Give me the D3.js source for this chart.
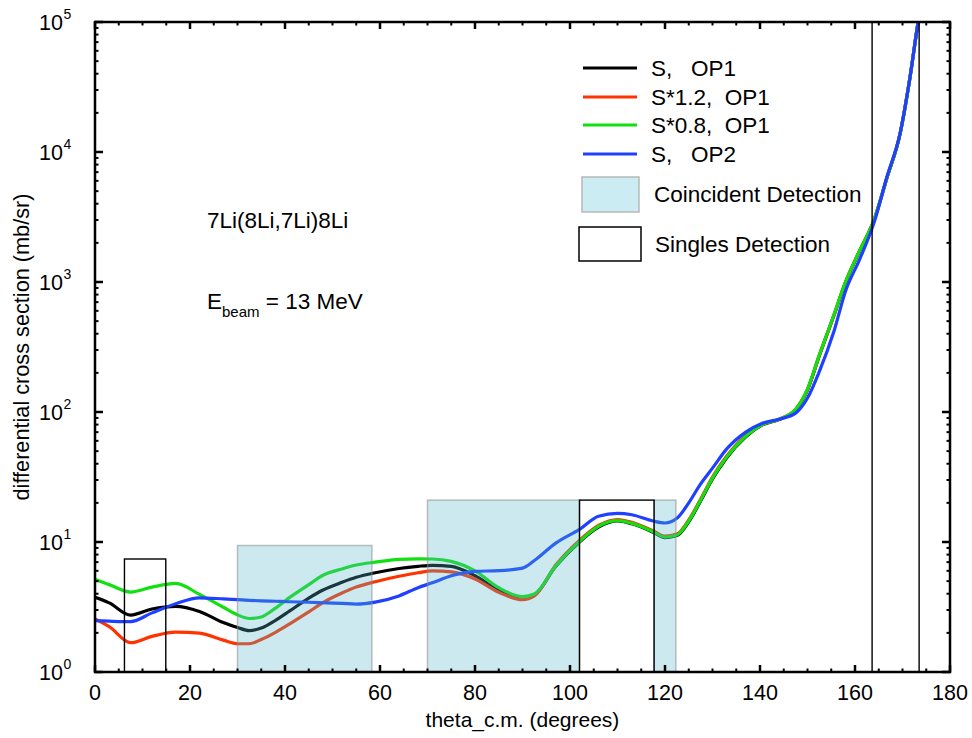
<!DOCTYPE html>
<html>
<head>
<meta charset="utf-8">
<script src="https://cdn.jsdelivr.net/npm/d3@7"></script>
<style>
  html, body { margin: 0; padding: 0; background: #fff; }
  svg { display: block; font-family: "Liberation Sans", Arial, Helvetica, sans-serif; }
</style>
</head>
<body>
<svg id="chart" width="972" height="738"></svg>
<script>
// Scattering angle grid (degrees, c.m.)
const theta = [0, 3, 7.5, 12, 17, 22, 27, 30, 32.5, 35, 38, 41, 45, 48, 52, 55, 59, 64, 68, 71,
  75, 80, 85, 90, 92.5, 97, 102, 106, 110, 113, 117.5, 120, 122.5, 125, 127.5, 130, 133, 137,
  140.5, 144, 147.5, 150, 152.5, 155.5, 158, 161, 164, 166.7, 169.5, 171.6, 173.3, 175];

// Differential cross sections (mb/sr)
const sOp1 = [3.75, 3.4, 2.74, 3.05, 3.2, 2.92, 2.4, 2.2, 2.08, 2.18, 2.5, 2.95, 3.7, 4.27, 4.9,
  5.35, 5.8, 6.25, 6.5, 6.62, 6.5, 5.5, 4.25, 3.72, 3.92, 6.5, 10.0, 13.0, 14.5, 13.8, 11.9,
  10.8, 11.2, 14.3, 20.7, 30.5, 44.5, 64.5, 79.5, 87.5, 104, 148, 272, 545, 990, 1740, 2990,
  6280, 13880, 37950, 99900, 200000];
const s12Op1 = [2.56, 2.23, 1.68, 1.88, 2.03, 1.99, 1.76, 1.65, 1.65, 1.78, 2.02, 2.35, 2.9,
  3.42, 4.05, 4.5, 4.95, 5.45, 5.8, 6.0, 5.9, 5.2, 4.1, 3.6, 3.85, 6.65, 10.3, 13.4, 14.9, 14.2,
  12.2, 11.1, 11.5, 14.8, 21.4, 31.6, 45.8, 66, 80.5, 88, 105, 149, 274, 548, 1000, 1750, 3000,
  6300, 13900, 38000, 100000, 200000];
const s08Op1 = [5.17, 4.7, 4.12, 4.5, 4.8, 3.95, 3.15, 2.75, 2.58, 2.65, 3.1, 3.75, 4.7, 5.55,
  6.2, 6.65, 7.0, 7.35, 7.42, 7.4, 7.1, 6.0, 4.45, 3.8, 3.98, 6.55, 10.1, 13.2, 14.6, 13.9, 12.0,
  10.9, 11.3, 14.5, 21, 31, 45, 65, 80, 88, 105, 150, 275, 550, 1000, 1750, 3000, 6300, 13900,
  38000, 100000, 200000];
const sOp2 = [2.48, 2.46, 2.44, 2.85, 3.35, 3.72, 3.65, 3.6, 3.56, 3.53, 3.5, 3.47, 3.44, 3.41,
  3.37, 3.33, 3.45, 3.85, 4.45, 4.85, 5.5, 5.95, 6.02, 6.3, 7.2, 9.8, 12.5, 15.8, 16.6, 16.2,
  14.5, 14.0, 15.2, 20, 28, 37, 52, 70, 82, 88, 98, 128, 205, 410, 850, 1500, 2850, 6400, 13900,
  37900, 100000, 200000];

const seriesNames = ["S,   OP1", "S*1.2,  OP1", "S*0.8,  OP1", "S,   OP2"];
const seriesColors = ["#000000", "#ff3300", "#11e011", "#1f40ff"];

// Angular acceptance windows
const coincLo = [30, 70, 117.7];
const coincHi = [58.3, 102, 122.3];
const coincTop = [9.4, 21, 21];
const singlesLo = [6.2, 102, 163.6];
const singlesHi = [14.9, 117.7, 173.5];
const singlesTop = [7.4, 21, 1e7];

const xTicks = [0, 20, 40, 60, 80, 100, 120, 140, 160, 180];
const yDecades = [0, 1, 2, 3, 4, 5];

const svg = d3.select("#chart");
const L = 95, R = 950, T = 22, B = 672;

const x = d3.scaleLinear().domain([0, 180]).range([L, R]);
const y = d3.scaleLog().domain([1, 1e5]).range([B, T]);

svg.append("defs").append("clipPath").attr("id", "plotClip")
  .append("rect").attr("x", L).attr("y", T).attr("width", R - L).attr("height", B - T);

const plot = svg.append("g").attr("clip-path", "url(#plotClip)");

// Curves
const series = [sOp1, s12Op1, s08Op1, sOp2];
const line = d3.line()
  .x((d, i) => x(theta[i]))
  .y(d => y(d))
  .curve(d3.curveMonotoneX);

series.forEach((vals, k) => {
  plot.append("path")
    .datum(vals)
    .attr("d", line)
    .attr("fill", "none")
    .attr("stroke", seriesColors[k])
    .attr("stroke-width", 3.2)
    .attr("stroke-linejoin", "round");
});

// Coincident-detection windows (translucent, over the curves)
coincLo.forEach((lo, i) => {
  plot.append("rect")
    .attr("x", x(lo))
    .attr("y", y(coincTop[i]))
    .attr("width", x(coincHi[i]) - x(lo))
    .attr("height", y(1) - y(coincTop[i]))
    .attr("fill", "rgb(83,183,200)")
    .attr("fill-opacity", 0.3)
    .attr("stroke", "rgba(140,140,140,0.55)")
    .attr("stroke-width", 1.5);
});

// Singles-detection windows
singlesLo.forEach((lo, i) => {
  plot.append("rect")
    .attr("x", x(lo))
    .attr("y", y(Math.min(singlesTop[i], 1e6)))
    .attr("width", x(singlesHi[i]) - x(lo))
    .attr("height", y(1) - y(Math.min(singlesTop[i], 1e6)))
    .attr("fill", "none")
    .attr("stroke", "#000")
    .attr("stroke-width", 1.4);
});

// Frame and ticks
const axes = svg.append("g");
axes.append("rect")
  .attr("x", L).attr("y", T).attr("width", R - L).attr("height", B - T)
  .attr("fill", "none").attr("stroke", "#000").attr("stroke-width", 2.5);

const xMinor = d3.range(0, 181, 5);
xMinor.forEach(v => {
  const major = v % 20 === 0;
  const len = major ? 7 : 3.5;
  const w = major ? 2.5 : 2;
  axes.append("line").attr("x1", x(v)).attr("x2", x(v)).attr("y1", B).attr("y2", B - len)
    .attr("stroke", "#000").attr("stroke-width", w);
  axes.append("line").attr("x1", x(v)).attr("x2", x(v)).attr("y1", T).attr("y2", T + len)
    .attr("stroke", "#000").attr("stroke-width", w);
});

yDecades.forEach(p => {
  const base = Math.pow(10, p);
  const majY = y(base);
  [[L, 1], [R, -1]].forEach(([x0, dir]) => {
    axes.append("line").attr("x1", x0).attr("x2", x0 + dir * 8).attr("y1", majY).attr("y2", majY)
      .attr("stroke", "#000").attr("stroke-width", 2.5);
  });
  if (p < 5) {
    for (let m = 2; m <= 9; m++) {
      const yy = y(base * m);
      [[L, 1], [R, -1]].forEach(([x0, dir]) => {
        axes.append("line").attr("x1", x0).attr("x2", x0 + dir * 3.5).attr("y1", yy).attr("y2", yy)
          .attr("stroke", "#000").attr("stroke-width", 2);
      });
    }
  }
});

// Tick labels
const xLab = svg.append("g").attr("font-size", 21.5).attr("fill", "#000");
xTicks.forEach(v => {
  xLab.append("text").attr("x", x(v)).attr("y", 700).attr("text-anchor", "middle").text(v);
});

const yLab = svg.append("g").attr("fill", "#000");
yDecades.forEach(p => {
  const yy = y(Math.pow(10, p));
  yLab.append("text").attr("x", 63).attr("y", yy + 8).attr("text-anchor", "end")
    .attr("font-size", 21.5).text("10");
  yLab.append("text").attr("x", 63.5).attr("y", yy - 3).attr("text-anchor", "start")
    .attr("font-size", 14).text(p);
});

// Axis titles
svg.append("text").attr("x", (L + R) / 2).attr("y", 727).attr("text-anchor", "middle")
  .attr("font-size", 21).text("theta_c.m. (degrees)");
svg.append("text").attr("transform", `translate(29,${(T + B) / 2}) rotate(-90)`)
  .attr("text-anchor", "middle").attr("font-size", 21.7).text("differential cross section (mb/sr)");

// Reaction annotations
svg.append("text").attr("x", 207).attr("y", 228).attr("font-size", 22.5).text("7Li(8Li,7Li)8Li");
const eb = svg.append("text").attr("x", 207).attr("y", 309).attr("font-size", 22.5);
eb.append("tspan").text("E");
eb.append("tspan").attr("font-size", 15).attr("dy", 8).text("beam");
eb.append("tspan").attr("dy", -8).text(" = 13 MeV");

// Legend
const leg = svg.append("g");
const legY = [68, 97, 125, 154];
seriesNames.forEach((name, k) => {
  leg.append("line").attr("x1", 583).attr("x2", 637).attr("y1", legY[k]).attr("y2", legY[k])
    .attr("stroke", seriesColors[k]).attr("stroke-width", 3.2);
  leg.append("text").attr("x", 651).attr("y", legY[k] + 8).attr("font-size", 22.5)
    .attr("xml:space", "preserve").style("white-space", "pre").text(name);
});
leg.append("rect").attr("x", 582).attr("y", 177).attr("width", 57).attr("height", 35)
  .attr("fill", "#cbecf2").attr("stroke", "#b8b8b8").attr("stroke-width", 1.5);
leg.append("text").attr("x", 654).attr("y", 202).attr("font-size", 22.5).text("Coincident Detection");
leg.append("rect").attr("x", 579).attr("y", 227).attr("width", 62).attr("height", 34)
  .attr("fill", "#fff").attr("stroke", "#000").attr("stroke-width", 1.5);
leg.append("text").attr("x", 655).attr("y", 252).attr("font-size", 22.5).text("Singles Detection");
</script>
</body>
</html>
